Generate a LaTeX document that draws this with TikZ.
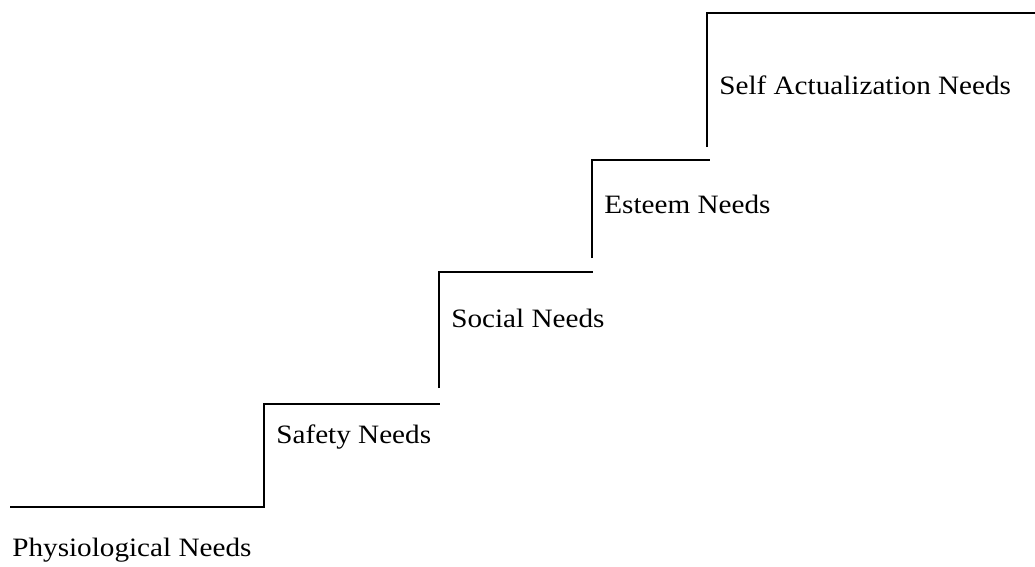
\documentclass[tikz,border=0pt]{standalone}
\usepackage{fontspec}
\setmainfont[FakeStretch=1.1]{Liberation Serif}
\tikzset{
  need/.style={
    anchor = base west,
    inner sep = 0pt,
    font = \fontsize{15.1pt}{18pt}\selectfont
  },
  stair/.style={
    line width = 1.1pt
  }
}
\begin{document}
\begin{tikzpicture}[x=0.02cm, y=-0.02cm]
  \useasboundingbox (0,0) rectangle (1035,566);
  % steps
  \draw[stair] (10,507) coordinate (floor) -- ++(254,0) -- ++(0,-103) -- ++(176,0);
  \draw[stair] (439,388) coordinate (riser2) -- ++(0,-116) -- ++(154,0);
  \draw[stair] (592,258) coordinate (riser3) -- ++(0,-98) -- ++(118,0);
  \draw[stair] (707,147) coordinate (riser4) -- ++(0,-134) -- ++(328,0);
  % labels
  \node[need] (physio) at (12,556) {Physiological Needs};
  \node[need] (safety) at (276,443) {Safety Needs};
  \node[need] (social) at (451,327) {Social Needs};
  \node[need] (esteem) at (604,213) {Esteem Needs};
  \node[need] (selfact) at (719,94) {Self Actualization Needs};
\end{tikzpicture}
\end{document}
